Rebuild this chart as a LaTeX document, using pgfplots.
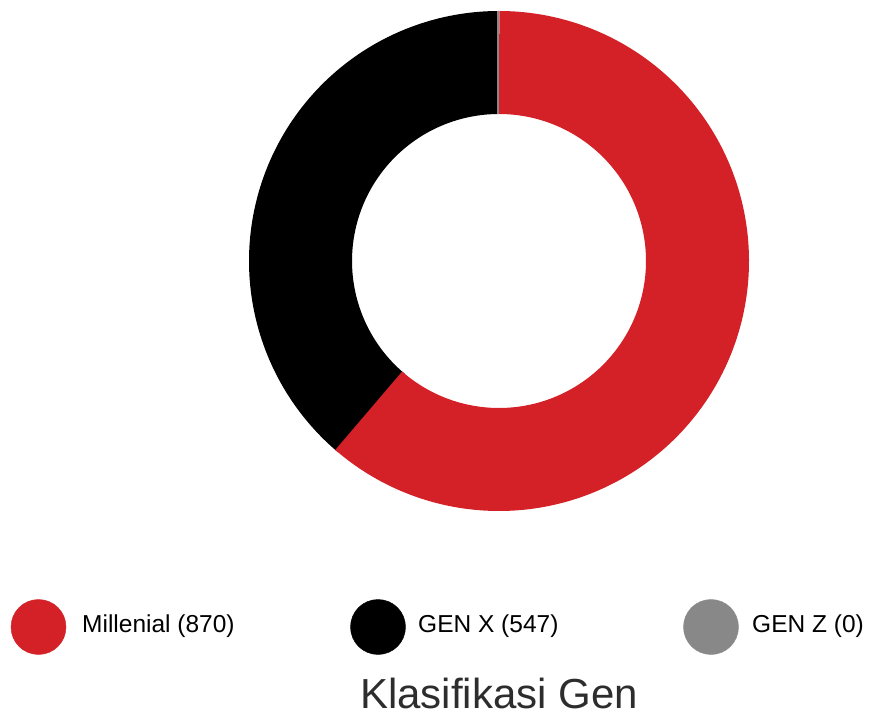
\documentclass[border=0pt]{standalone}
\usepackage{pgfplots}
\pgfplotsset{compat=1.18}
\usepackage{fontspec}
\setmainfont{Liberation Sans}
\definecolor{cRed}{RGB}{212,32,39}
\definecolor{cGray}{RGB}{136,136,136}
\definecolor{cTitle}{RGB}{45,45,45}
\begin{document}
\begin{tikzpicture}
\pgfmathsetmacro\vA{870}
\pgfmathsetmacro\vB{547}
\pgfmathsetmacro\vC{0}
\pgfmathsetmacro\tot{\vA+\vB+\vC}
\pgfmathsetmacro\aA{90-360*(\vA/\tot)}
\pgfmathsetmacro\aB{\aA-360*(\vB/\tot)}
\begin{axis}[
  scale only axis, width=874pt, height=717pt,
  xmin=0, xmax=874, ymin=0, ymax=717,
  hide axis, clip=false,
]
\path (axis cs:0,0) rectangle (axis cs:874,717);
% donut slices (thick arcs, butt caps); black drawn first, slightly overlapping under red
\addplot[black, line width=103pt, domain=\aB:{\aA+1}, samples=160, variable=\t]
  ({499+198.5*cos(\t)}, {456+198.5*sin(\t)});
\addplot[cRed, line width=103pt, domain=\aA:90, samples=240, variable=\t]
  ({499+198.5*cos(\t)}, {456+198.5*sin(\t)});
\addplot[cGray, line width=2pt] coordinates {(498,603) (498,706)};
% legend
\addplot[only marks, mark=*, mark size=27.5pt, cRed] coordinates {(38.5,90)};
\addplot[only marks, mark=*, mark size=27.5pt, black] coordinates {(378,90)};
\addplot[only marks, mark=*, mark size=27.5pt, cGray] coordinates {(711,90)};
\node[anchor=west, inner sep=0pt, font=\fontsize{24.5}{30}\selectfont] at (axis cs:82,91) {Millenial (870)};
\node[anchor=west, inner sep=0pt, font=\fontsize{24.5}{30}\selectfont] at (axis cs:418,91) {GEN X (547)};
\node[anchor=west, inner sep=0pt, font=\fontsize{24.5}{30}\selectfont] at (axis cs:752,91) {GEN Z (0)};
% title
\node[anchor=base, inner sep=0pt, text=cTitle, font=\fontsize{42}{50}\selectfont] at (axis cs:499,9) {Klasifikasi Gen};
\end{axis}
\end{tikzpicture}
\end{document}
